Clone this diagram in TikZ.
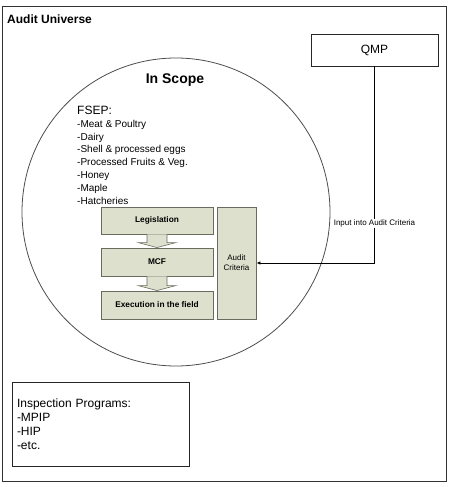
\documentclass[tikz,border=0pt]{standalone}
\usepackage{fontspec}
\setmainfont{Liberation Sans}
\usetikzlibrary{calc,arrows.meta}
\definecolor{sage}{RGB}{221,224,205}
\definecolor{sageline}{RGB}{105,107,95}
\tikzset{
	stage/.style={draw=sageline, fill=sage, line width=0.9pt, minimum width=112pt, minimum height=28pt, inner sep=0pt, font=\bfseries\fontsize{8.3}{10}\selectfont},
	plainbox/.style={draw=black!85, line width=0.8pt, inner sep=0pt},
}
\def\blockarrow(#1)(#2){\draw[draw=sageline, fill=sage, line width=0.6pt] ($(#1.south)+(-10,0)$) -- ($(#2.north)+(-10,-5)$) -- ($(#2.north)+(-19,-5)$) -- (#2.north) -- ($(#2.north)+(19,-5)$) -- ($(#2.north)+(10,-5)$) -- ($(#1.south)+(10,0)$);}

\begin{document}
\begin{tikzpicture}[x=1pt, y=-1pt]
		%%%%% START %%%%%
		\useasboundingbox (0,0) rectangle (450,487);
		\draw[line width=1pt, black!80] (2,7) rectangle (446,481);
		\node[anchor=west, inner sep=0pt, font=\bfseries\fontsize{12}{14}\selectfont] (title) at (7,19) {Audit Universe};
		
		\node[draw=black!70, line width=0.8pt, circle, minimum size=308pt] (scope) at (176,212) {};
		\node[font=\bfseries\fontsize{14}{16}\selectfont] (scopetitle) at (175,80) {In Scope};
		
		\node[anchor=north west, inner sep=0pt, align=left, font=\fontsize{10}{12.8}\selectfont] (fsep) at (77,106)
			{{\fontsize{12}{14}\selectfont FSEP:}\\-Meat \& Poultry\\-Dairy\\-Shell \& processed eggs\\-Processed Fruits \& Veg.\\-Honey\\-Maple\\-Hatcheries};
		
		\node[stage, minimum height=27pt] (leg) at (157,220.5) {Legislation};
		\node[stage] (mcf) at (157,262) {MCF};
		\node[stage] (exec) at (157,305) {Execution in the field};
		\node[stage, minimum width=39pt, minimum height=112pt, align=center, font=\fontsize{8}{10}\selectfont] (crit) at (236.5,263) {Audit\\Criteria};
		\blockarrow(leg)(mcf)
		\blockarrow(mcf)(exec)
		
		\node[plainbox, minimum width=127pt, minimum height=32pt, font=\fontsize{12}{14}\selectfont] (qmp) at (374.5,50) {QMP};
		\draw[line width=0.8pt, -{Latex[length=4pt,width=3.5pt]}] (qmp.south) |- (crit.east)
			node[pos=0.4, fill=white, inner sep=1pt, font=\fontsize{8}{10}\selectfont] (inputlabel) {Input into Audit Criteria};
		
		\node[plainbox, minimum width=177pt, minimum height=84pt, text width=167pt, align=left, inner xsep=5pt, font=\fontsize{12}{14}\selectfont] (insp) at (100.5,424)
			{Inspection Programs:\\-MPIP\\-HIP\\-etc.};
		%%%%% END %%%%%
\end{tikzpicture}
\end{document}
